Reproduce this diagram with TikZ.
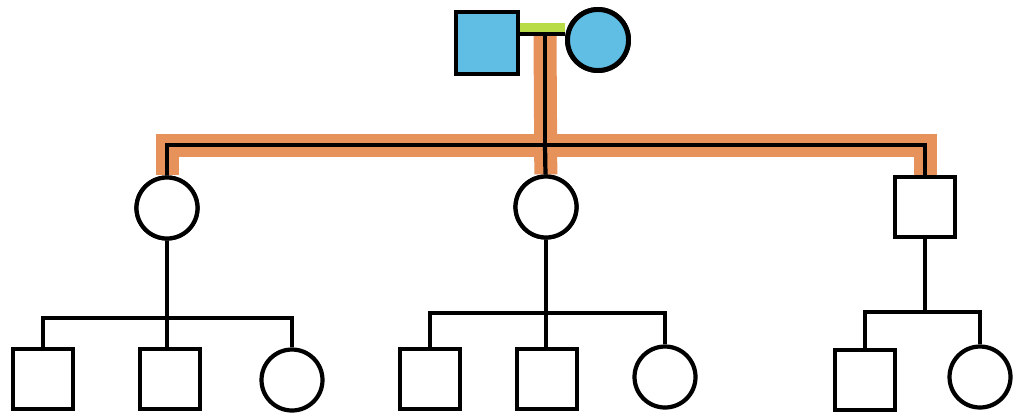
\documentclass[tikz,border=0pt]{standalone}
\definecolor{affected}{RGB}{96,190,228}
\definecolor{lineage}{RGB}{230,146,90}
\definecolor{wedlock}{RGB}{184,220,72}
\tikzset{
 male/.style={draw,rectangle,minimum size=1.2cm,fill=white,line width=2.4pt},
 female/.style={draw,circle,minimum size=1.22cm,fill=white,line width=2.4pt},
 hit/.style={fill=affected,line width=2.8pt},
 trace/.style={draw=lineage,line width=0.46cm},
}
\begin{document}
\begin{tikzpicture}[x=0.02cm,y=-0.02cm,line width=2.4pt]
 \useasboundingbox (0,0) rectangle (1013,416);
 % couple and children
 \path 	(487,43) 	node[male,hit,minimum size=1.24cm] (dad) {}
 	(598,40) 	node[female,hit] (mum) {}
 	(167,208) 	node[female] (c1) {}
 	(546,207) 	node[female] (c2) {}
 	(925,207) 	node[male] (c3) {};
 % grandchildren
 \path 	(43,379) 	node[male] (g1) {}
 	(170,379) 	node[male] (g2) {}
 	(292,380) 	node[female] (g3) {}
 	(430,379) 	node[male] (g4) {}
 	(547,379) 	node[male] (g5) {}
 	(665,377) 	node[female] (g6) {}
 	(865,380) 	node[male] (g7) {}
 	(980,377) 	node[female] (g8) {};
 \coordinate (m) at (545,34);
 \coordinate (s) at (545,145);
 \coordinate (t1) at (167,318);
 \coordinate (t2) at (546,313);
 \coordinate (t3) at (925,312);
 % highlighted line of descent
 \draw[trace] (c1) |- (s) -| (c3);
 \draw[trace] (m) -- (c2);
 \draw[wedlock,line width=0.2cm] (dad.east |- 0,28) -- (mum.west |- 0,28);
 \draw (dad.east |- m) -- (m) -- (mum.west |- m);
 \draw (m) -- (s);
 \draw (c1) |- (s) -| (c3);
 \draw (s) -- (c2);
 \draw (c1) -- (t1);
 \draw (g1) |- (t1) -| (g3);
 \draw (t1) -- (t1 |- g2.north);
 \draw (c2) -- (t2);
 \draw (g4) |- (t2) -| (g6);
 \draw (t2) -- (t2 |- g5.north);
 \draw (c3) -- (t3);
 \draw (g7) |- (t3) -| (g8);
 % shapes on top of the lines
 \path 	(487,43) 	node[male,hit,minimum size=1.24cm] {}
 	(598,40) 	node[female,hit] {}
 	(167,208) 	node[female] {}
 	(546,207) 	node[female] {}
 	(925,207) 	node[male] {};
\end{tikzpicture}
\end{document}
